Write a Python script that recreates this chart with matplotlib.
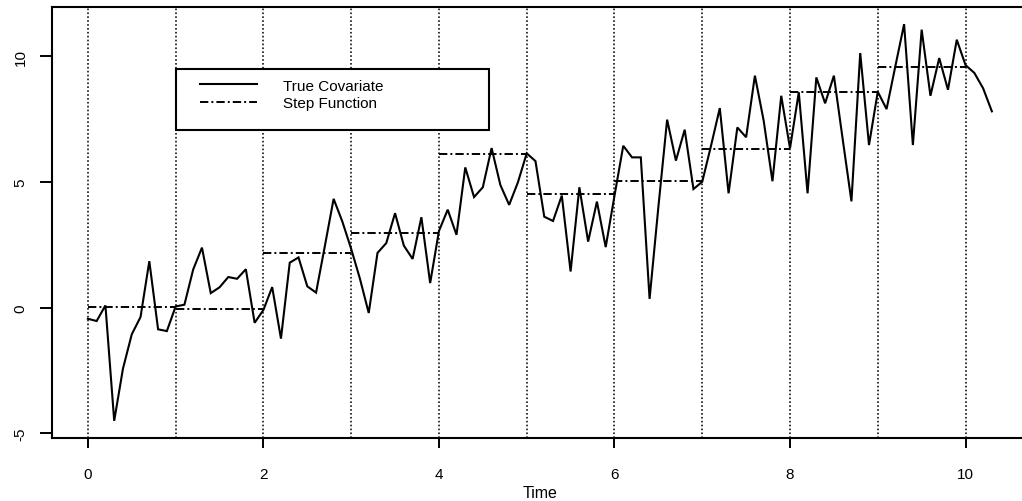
import matplotlib
matplotlib.use("Agg")
import matplotlib.pyplot as plt
from matplotlib.patches import Rectangle
import numpy as np

plt.rcParams['font.family'] = ['Liberation Sans', 'DejaVu Sans']
plt.rcParams['lines.scale_dashes'] = False

time = [0.0, 0.1, 0.2, 0.3, 0.4, 0.5, 0.6, 0.7, 0.8, 0.9,
        1.0, 1.1, 1.2, 1.3, 1.4, 1.5, 1.6, 1.7, 1.8, 1.9,
        2.0, 2.1, 2.2, 2.3, 2.4, 2.5, 2.6, 2.7, 2.8, 2.9,
        3.0, 3.1, 3.2, 3.3, 3.4, 3.5, 3.6, 3.7, 3.8, 3.9,
        4.0, 4.1, 4.2, 4.3, 4.4, 4.5, 4.6, 4.7, 4.8, 4.9,
        5.0, 5.1, 5.2, 5.3, 5.4, 5.5, 5.6, 5.7, 5.8, 5.9,
        6.0, 6.1, 6.2, 6.3, 6.4, 6.5, 6.6, 6.7, 6.8, 6.9,
        7.0, 7.1, 7.2, 7.3, 7.4, 7.5, 7.6, 7.7, 7.8, 7.9,
        8.0, 8.1, 8.2, 8.3, 8.4, 8.5, 8.6, 8.7, 8.8, 8.9,
        9.0, 9.1, 9.2, 9.3, 9.4, 9.5, 9.6, 9.7, 9.8, 9.9,
        10.0, 10.1, 10.2, 10.3]

covariate = [-0.44, -0.53, 0.09, -4.50, -2.42, -1.06, -0.37, 1.85, -0.86, -0.93,
             0.05, 0.12, 1.52, 2.39, 0.58, 0.81, 1.22, 1.15, 1.53, -0.60,
             -0.09, 0.82, -1.23, 1.79, 2.00, 0.85, 0.60, 2.45, 4.33, 3.42,
             2.34, 1.15, -0.21, 2.18, 2.57, 3.76, 2.47, 1.94, 3.60, 0.98,
             3.05, 3.90, 2.90, 5.58, 4.40, 4.79, 6.35, 4.88, 4.09, 4.99,
             6.14, 5.83, 3.62, 3.45, 4.46, 1.44, 4.79, 2.63, 4.22, 2.41,
             4.45, 6.44, 5.98, 5.98, 0.35, 4.00, 7.48, 5.85, 7.08, 4.72,
             5.01, 6.44, 7.94, 4.55, 7.17, 6.78, 9.23, 7.44, 5.03, 8.43,
             6.34, 8.57, 4.55, 9.16, 8.13, 9.23, 6.71, 4.23, 10.13, 6.47,
             8.59, 7.90, 9.60, 11.28, 6.47, 11.06, 8.43, 9.93, 8.67, 10.66,
             9.65, 9.34, 8.73, 7.81]

step_start = [0, 1, 2, 3, 4, 5, 6, 7, 8, 9]
step_end = [1, 2, 3, 4, 5, 6, 7, 8, 9, 10]
step_values = [0.03, -0.07, 2.17, 2.96, 6.13, 4.53, 5.03, 6.30, 8.60, 9.56]

grid_x = [0, 1, 2, 3, 4, 5, 6, 7, 8, 9, 10]
x_ticks = [0, 2, 4, 6, 8, 10]
y_ticks = [-5, 0, 5, 10]

fig = plt.figure(figsize=(10.22, 5.02), dpi=100)
ax = fig.add_axes([0.0506, 0.1249, 0.9553, 0.8586])

for gx in grid_x:
    ax.axvline(gx, color='black', lw=1.1, linestyle=(0, (1.2, 1.6)), zorder=1)

ax.plot(time, covariate, color='black', lw=1.5, solid_joinstyle='miter',
        label='True Covariate', zorder=3)
ax.hlines(step_values, step_start, step_end, colors='black', lw=1.4,
          linestyles=[(0, (6.0, 2.2, 1.4, 2.2))], label='Step Function', zorder=2)

ax.set_xlim(-0.412, 10.712)
ax.set_ylim(-5.195, 11.95)
ax.set_xticks(x_ticks)
ax.set_yticks(y_ticks)
ax.set_xticklabels([str(v) for v in x_ticks])
ax.set_yticklabels([str(v) for v in y_ticks])

ax.tick_params(axis='x', direction='out', length=7, width=1.4, pad=14,
               labelsize=11, colors='black')
ax.tick_params(axis='y', direction='out', length=8.5, width=1.4, pad=9,
               labelsize=11, colors='black')
for lab in ax.get_yticklabels():
    lab.set_rotation(90)
    lab.set_va('center')

for sp in ax.spines.values():
    sp.set_linewidth(1.5)
    sp.set_color('black')

ax.set_xlabel('Time', fontsize=11.5, va='top')
ax.xaxis.set_label_coords(0.5, -0.108)

# legend box (R-style frame), drawn inside the axes below the legend entries
ax.add_patch(Rectangle((0.1719, 0.739), 0.3066, 0.1215,
                       transform=fig.transFigure, fill=True,
                       facecolor='white', edgecolor='black',
                       lw=1.5, zorder=4, clip_on=False))
leg = ax.legend(loc='upper left', bbox_to_anchor=(0.1957, 0.8410),
                bbox_transform=fig.transFigure, borderaxespad=0,
                frameon=False, fontsize=11, handlelength=3.7,
                handletextpad=1.75, borderpad=0, labelspacing=0.24)
leg.set_zorder(6)

fig.savefig('out.png', dpi=100)
